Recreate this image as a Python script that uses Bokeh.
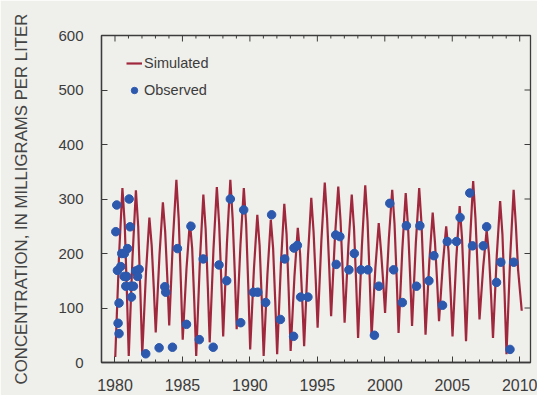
import math
from bokeh.plotting import figure
from bokeh.models import (Range1d, SingleIntervalTicker, Legend, LegendItem, ColumnDataSource)
from bokeh.embed import file_html
from bokeh.resources import INLINE

# ---------------- data ----------------
years = list(range(1980, 2010))
# per-year simulated values: trough (early in year), rising limb, peak, descending shoulder, falling limb
sim_trough = [10, 12, 15, 55, 68, 42, 12, 37, 48, 61, 24, 12, 15, 21, 30,
              64, 85, 73, 45, 48, 91, 54, 67, 51, 76, 48, 39, 79, 45, 15]
sim_rise = [196, 194, 166, 198, 228, 172, 190, 208, 220, 216, 172, 162, 181, 157, 193,
            224, 228, 214, 213, 173, 227, 208, 219, 185, 180, 191, 215, 177, 196, 196]
sim_peak = [320, 316, 266, 294, 335, 258, 308, 322, 335, 320, 271, 262, 291, 247, 302,
            330, 323, 308, 325, 256, 317, 311, 320, 275, 250, 287, 333, 243, 296, 317]
sim_shoulder = [255, 250, 215, 240, 265, 210, 245, 255, 265, 255, 215, 210, 235, 200, 240,
                265, 260, 245, 260, 205, 255, 250, 255, 220, 205, 230, 265, 200, 235, 250]
sim_fall = [130, 130, 135, 155, 150, 110, 140, 150, 165, 140, 115, 112, 128, 115, 152,
            175, 165, 145, 155, 148, 155, 158, 153, 148, 127, 135, 172, 122, 125, 170]
phase = [0.02, 0.30, 0.55, 0.72, 0.88]
sim_end_time = 2010.15
sim_end_value = 95

obs_year = [1980.06, 1980.13, 1980.18, 1980.23, 1980.30, 1980.30, 1980.43, 1980.50, 1980.70,
            1980.67, 1980.87, 1980.80, 1980.93, 1981.05, 1981.12, 1981.17, 1981.22, 1981.37,
            1981.54, 1981.67, 1981.79, 1982.28, 1983.27, 1983.69, 1983.76, 1984.26, 1984.63,
            1985.30, 1985.63, 1986.25, 1986.54, 1987.28, 1987.71, 1988.28, 1988.55, 1989.32,
            1989.54, 1990.26, 1990.58, 1991.17, 1991.61, 1992.26, 1992.58, 1993.24, 1993.27,
            1993.52, 1993.76, 1994.30, 1996.36, 1996.40, 1996.67, 1997.34, 1997.74, 1998.23,
            1998.75, 1999.23, 1999.56, 2000.37, 2000.65, 2001.30, 2001.60, 2002.35, 2002.60,
            2003.27, 2003.64, 2004.28, 2004.63, 2005.32, 2005.58, 2006.30, 2006.50, 2007.30,
            2007.55, 2008.28, 2008.60, 2009.28, 2009.56]
obs_value = [240, 289, 169, 72, 109, 53, 176, 200, 200,
             158, 158, 140, 209, 300, 249, 140, 120, 140,
             168, 158, 171, 16, 27, 139, 129, 28, 209,
             70, 250, 42, 190, 28, 179, 150, 300, 73,
             280, 129, 129, 110, 271, 79, 190, 48, 210,
             215, 120, 120, 234, 180, 231, 170, 200, 170,
             170, 50, 140, 292, 170, 110, 251, 140, 251,
             150, 196, 105, 222, 222, 266, 311, 214, 214,
             249, 147, 184, 24, 184]

x_start, x_end = 1979.0, 2010.8
y_start, y_end = 0, 600
x_major = 5
y_major = 100

# ---------------- build series ----------------
sim_time, sim_value = [], []
for i, yr in enumerate(years):
    vals = [sim_trough[i], sim_rise[i], sim_peak[i], sim_shoulder[i], sim_fall[i]]
    for ph, v in zip(phase, vals):
        sim_time.append(yr + ph)
        sim_value.append(v)
sim_time.append(sim_end_time)
sim_value.append(sim_end_value)

BG = "#efefeb"
AX = "#3c3c3c"
RED = "#a0283d"
BLUE = "#2c58ad"
FONT = "Liberation Sans"

p = figure(width=537, height=395, output_backend="svg", toolbar_location=None,
           x_range=Range1d(x_start, x_end), y_range=Range1d(y_start, y_end),
           min_border_left=101, min_border_right=7, min_border_top=35, min_border_bottom=33,
           background_fill_color=BG, border_fill_color=BG)
p.grid.visible = False
p.outline_line_color = AX
p.outline_line_width = 1.3

sim_src = ColumnDataSource(dict(t=sim_time, v=sim_value))
obs_src = ColumnDataSource(dict(t=obs_year, v=obs_value))
r_line = p.line("t", "v", source=sim_src, line_color=RED, line_width=2.2)
r_obs = p.scatter("t", "v", source=obs_src, size=8.5, fill_color=BLUE, line_color=BLUE)

for ax in (p.xaxis[0], p.yaxis[0]):
    ax.axis_line_color = AX
    ax.axis_line_width = 1.3
    ax.major_tick_line_color = AX
    ax.minor_tick_line_color = AX
    ax.major_tick_in = 6
    ax.major_tick_out = 0
    ax.minor_tick_in = 3
    ax.minor_tick_out = 0
    ax.major_label_text_font = FONT
    ax.major_label_text_color = AX

p.xaxis.ticker = SingleIntervalTicker(interval=x_major, num_minor_ticks=5)
p.yaxis.ticker = SingleIntervalTicker(interval=y_major, num_minor_ticks=0)
p.xaxis.major_label_text_font_size = "16px"
p.yaxis.major_label_text_font_size = "15px"
p.xaxis.major_label_standoff = 16
p.yaxis.major_label_standoff = 18
p.yaxis.axis_label = "CONCENTRATION, IN MILLIGRAMS PER LITER"
p.yaxis.axis_label_text_font = FONT
p.yaxis.axis_label_text_font_style = "normal"
p.yaxis.axis_label_text_font_size = "16.8px"
p.yaxis.axis_label_text_color = "#444444"
p.yaxis.axis_label_standoff = 24

# mirrored tick marks on the top and right edges of the frame
top_ticks = list(range(math.ceil(x_start), math.floor(x_end) + 1))
top_len = [6 if t % x_major == 0 else 3 for t in top_ticks]
p.ray(x=top_ticks, y=[y_end] * len(top_ticks), length=top_len, length_units="screen",
      angle=-math.pi / 2, line_color=AX, line_width=1)
right_ticks = list(range(y_start, y_end + 1, y_major))
p.ray(x=[x_end] * len(right_ticks), y=right_ticks, length=6, length_units="screen",
      angle=math.pi, line_color=AX, line_width=1)

legend = Legend(items=[LegendItem(label="Simulated", renderers=[r_line]),
                       LegendItem(label="Observed", renderers=[r_obs])],
                location=(25, 264), orientation="vertical")
legend.background_fill_alpha = 0
legend.border_line_alpha = 0
legend.padding = 0
legend.margin = 0
legend.spacing = 11
legend.glyph_width = 16
legend.glyph_height = 16
legend.label_standoff = 2
legend.label_text_font = FONT
legend.label_text_font_size = "14.5px"
legend.label_text_color = AX
p.add_layout(legend)

open("out.html", "w").write(file_html(p, INLINE))
